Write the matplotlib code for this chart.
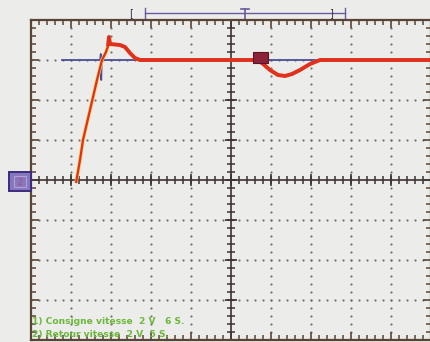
import numpy as np
import matplotlib
matplotlib.use("Agg")
import matplotlib.pyplot as plt
from matplotlib.patches import Rectangle

# Scope trace, x in divisions (10 div across), y in volts (2 V/div, 8 div tall)
retour_t = [1.125, 1.225, 1.30, 1.475, 1.65, 1.775, 1.875, 1.925, 1.95, 1.975,
            2.225, 2.35, 2.475, 2.60, 2.725, 5.60, 5.775, 5.975, 6.175, 6.35,
            6.525, 6.725, 6.975, 7.225, 10.0]
retour_v = [-0.15, 1.0, 2.0, 3.5, 5.0, 6.0, 6.4, 6.7, 7.15, 6.8,
            6.75, 6.65, 6.35, 6.1, 6.0, 6.0, 5.85, 5.5, 5.25, 5.2,
            5.3, 5.5, 5.8, 6.0, 6.0]

consigne_t = [0.775, 1.73, 1.745, 1.755, 1.77, 10.0]
consigne_v = [6.0, 6.0, 6.3, 5.0, 6.0, 6.0]

legend_lines = ["1) Consigne vitesse  2 V   6 S.",
                "2) Retour vitesse  2 V  5 S."]

BG = "#ececea"
FRAME = "#5a4438"
RED = "#e0301f"
HALO = "#f4cf52"
BLUE = "#4a4c9c"
PURPLE = "#6a5a9e"
GREEN = "#6cb83a"

fig = plt.figure(figsize=(4.30, 3.42), dpi=100, facecolor=BG)
ax = fig.add_axes([31 / 430, 2 / 342, 400 / 430, 320 / 342], facecolor=BG)
ax.set_xlim(0, 10)
ax.set_ylim(-8, 8)

# dotted graticule, one dot every minor division
minor_x = np.arange(0, 10.01, 0.2)
minor_y = np.arange(-8, 8.01, 0.4)
for gx in range(1, 10):
    if gx == 5:
        continue
    ax.scatter(np.full(minor_y.size, gx), minor_y, s=2.6, color="#747474",
               linewidths=0, zorder=1)
for gy in range(-6, 7, 2):
    if gy == 0:
        continue
    ax.scatter(minor_x, np.full(minor_x.size, gy), s=2.6, color="#747474",
               linewidths=0, zorder=1)

# centre cross with its own ticks
ax.axhline(0, color="#3c3432", lw=1.2, zorder=2)
ax.axvline(5, color="#3c3432", lw=1.2, zorder=2)
ax.plot(minor_x, np.zeros_like(minor_x), ls="none", marker="|", ms=5.5,
        mew=1.1, color="#3c3432", zorder=2)
ax.plot(np.arange(0, 10.01, 1), np.zeros(11), ls="none", marker="|", ms=9,
        mew=1.2, color="#3c3432", zorder=2)
ax.plot(np.full(minor_y.size, 5), minor_y, ls="none", marker="_", ms=5.5,
        mew=1.1, color="#3c3432", zorder=2)
ax.plot(np.full(9, 5), np.arange(-8, 8.01, 2), ls="none", marker="_", ms=9,
        mew=1.2, color="#3c3432", zorder=2)

# border ticks
ax.set_xticks(np.arange(0, 10.01, 1))
ax.set_xticks(minor_x, minor=True)
ax.set_yticks(np.arange(-8, 8.01, 2))
ax.set_yticks(minor_y, minor=True)
ax.tick_params(which="both", direction="in", top=True, right=True,
               labelbottom=False, labelleft=False, color=FRAME)
ax.tick_params(which="major", length=5.5, width=1.2)
ax.tick_params(which="minor", length=3.5, width=1.1)
for sp in ax.spines.values():
    sp.set_color(FRAME)
    sp.set_linewidth(1.6)

# traces: thin on the rising edge, heavier once settled
ax.plot(consigne_t, consigne_v, color=BLUE, lw=1.3, zorder=3)
ax.plot(retour_t, retour_v, color=HALO, lw=2.6, zorder=4,
        solid_capstyle="butt")
ax.plot(retour_t, retour_v, color=RED, lw=1.6, zorder=5,
        solid_capstyle="butt")
ax.plot(retour_t[7:], retour_v[7:], color=RED, lw=2.8, zorder=5,
        solid_capstyle="butt")

# trigger marker on the trace
ax.add_patch(Rectangle((5.55, 5.85), 0.375, 0.55, facecolor="#8c2238",
                       edgecolor="#5a1428", lw=0.8, zorder=6))

# ground reference marker, left of the screen
ax.add_patch(Rectangle((-0.55, -0.55), 0.55, 0.95, facecolor="#8676bc",
                       edgecolor="#3c2c7c", lw=1.4, zorder=6, clip_on=False))
ax.add_patch(Rectangle((-0.42, -0.35), 0.3, 0.55, facecolor="none",
                       edgecolor="#b0a0d8", lw=0.8, zorder=6, clip_on=False))
ax.text(-0.29, -0.1, "2", color="#b04a7a", fontsize=5.5, ha="center",
        va="center", zorder=7, clip_on=False)

# horizontal cursor bar above the screen
yb = 8.35
ax.plot([2.85, 7.85], [yb, yb], color=PURPLE, lw=1.0, clip_on=False)
for xe in (2.85, 7.85):
    ax.plot([xe, xe], [yb - 0.25, yb + 0.25], color=PURPLE, lw=1.0,
            clip_on=False)
ax.plot([5.35, 5.35], [yb - 0.3, yb + 0.2], color=PURPLE, lw=1.2,
        clip_on=False)
ax.plot([5.25, 5.45], [yb + 0.2, yb + 0.2], color=PURPLE, lw=1.2,
        clip_on=False)
ax.text(2.5, yb, "[", color="#3a3040", fontsize=7, ha="center",
        va="center", clip_on=False)
ax.text(7.5, yb, "]", color="#3a3040", fontsize=7, ha="center",
        va="center", clip_on=False)

# channel legend
ax.text(0.02, -7.1, legend_lines[0], color=GREEN, fontsize=6.6,
        fontweight="bold", ha="left", va="center", zorder=7)
ax.text(0.02, -7.72, legend_lines[1], color=GREEN, fontsize=6.6,
        fontweight="bold", ha="left", va="center", zorder=7)

fig.savefig("out.png", dpi=100, facecolor=BG)
